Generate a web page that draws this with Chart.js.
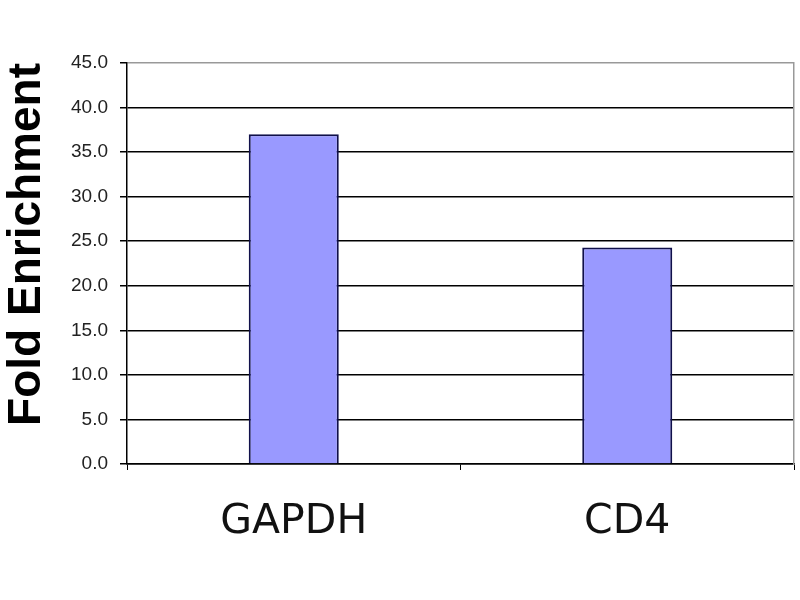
<!DOCTYPE html>
<html>
<head>
<meta charset="utf-8">
<script src="https://cdn.jsdelivr.net/npm/chart.js@4"></script>
<style>
  html, body { margin: 0; padding: 0; background: #fff; }
  #wrap { width: 800px; height: 600px; }
</style>
</head>
<body>
<div id="wrap"><canvas id="grafica"></canvas></div>
<script>
// data
const categorias = ['GAPDH', 'CD4'];
const valores = [37.0, 24.3];
const yMin = 0;
const yMax = 45;
const yPaso = 5;

const data = {
  labels: categorias,
  datasets: [{
    label: 'Fold Enrichment',
    data: valores,
    backgroundColor: '#9999ff',
    borderColor: '#10104a',
    borderWidth: 2,
    categoryPercentage: 1,
    barPercentage: 0.27
  }]
};

const options = {
  responsive: false,
  animation: false,
  layout: { padding: { top: 63, right: 6, bottom: 0, left: 0 } },
  plugins: {
    legend: { display: false },
    tooltip: { enabled: false }
  },
  scales: {
    x: {
      grid: {
        offset: true,
        drawOnChartArea: false,
        drawTicks: true,
        tickLength: 6,
        color: '#000'
      },
      border: { color: '#000', width: 1.5 },
      ticks: {
        color: '#111',
        font: { family: 'DejaVu Sans', size: 41 },
        padding: 28
      },
      afterFit: (scale) => { scale.height = 136; }
    },
    y: {
      min: yMin,
      max: yMax,
      ticks: {
        stepSize: yPaso,
        color: '#222',
        font: { family: 'Liberation Sans', size: 19 },
        padding: 12,
        callback: (v) => Number(v).toFixed(1)
      },
      grid: {
        color: (ctx) => ctx.tick && ctx.tick.value === yMax ? '#999' : '#000',
        lineWidth: 1.5,
        tickLength: 7,
        tickColor: '#000'
      },
      border: { color: '#000', width: 1.5 },
      title: {
        display: true,
        text: 'Fold Enrichment',
        align: 'end',
        color: '#000',
        font: { family: 'Liberation Sans', size: 46, weight: 'bold' },
        padding: { top: 0, bottom: 14 }
      },
      afterFit: (scale) => { scale.width = 127; }
    },
    y2: {
      position: 'right',
      min: yMin,
      max: yMax,
      ticks: { display: false },
      grid: { display: false, drawTicks: false },
      border: { color: '#999', width: 1.5 },
      afterFit: (scale) => { scale.width = 0; }
    }
  }
};

const config = {
  type: 'bar',
  data: data,
  options: options
};

const canvas = document.getElementById('grafica');
canvas.width = 800;
canvas.height = 600;
new Chart(canvas, config);
</script>
</body>
</html>
